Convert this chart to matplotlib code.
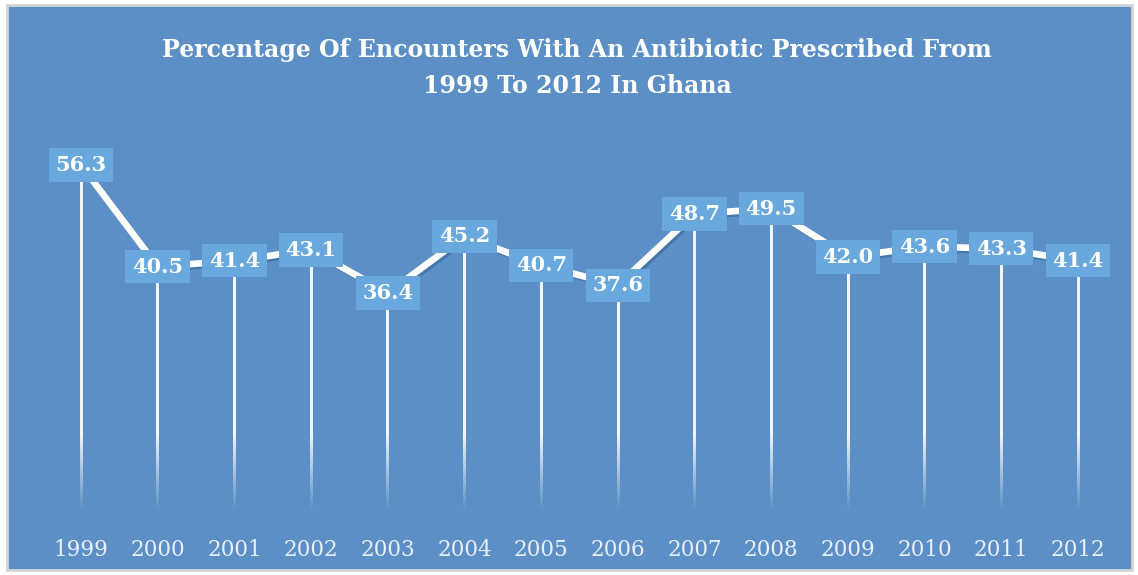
import numpy as np
import matplotlib
matplotlib.use("Agg")
import matplotlib.pyplot as plt
import matplotlib.patheffects as pe
from matplotlib.patches import Rectangle

years = [1999, 2000, 2001, 2002, 2003, 2004, 2005, 2006, 2007, 2008, 2009, 2010, 2011, 2012]
pct = [56.3, 40.5, 41.4, 43.1, 36.4, 45.2, 40.7, 37.6, 48.7, 49.5, 42.0, 43.6, 43.3, 41.4]
title = "Percentage Of Encounters With An Antibiotic Prescribed From\n1999 To 2012 In Ghana"

bg = "#5B8FC5"
box_col = "#68A8DC"

plt.rcParams['font.family'] = ['DejaVu Serif']

fig = plt.figure(figsize=(11.38, 5.75), dpi=100)
fig.patch.set_facecolor("white")
fig.patches.append(Rectangle((7 / 1138, 5 / 575), 1125 / 1138, 565 / 575, transform=fig.transFigure,
                             facecolor=bg, edgecolor="#d4d4d4", linewidth=2, zorder=-10))

ax = fig.add_axes([0, 0, 1, 1])
ax.set_facecolor("none")
ax.set_zorder(5)
px_year = (1078 - 81) / 13
px_val = 6.43
xlim = (1999 - 81 / px_year, 2012 + (1138 - 1078) / px_year)
ylim = ((527 - 575) / px_val, 527 / px_val)
ax.axis("off")

# fading drop lines drawn as thin gradient images
half_w = 1.3 / px_year
for x, v in zip(years, pct):
    ys = np.linspace(v, 2.5, 200)
    alpha = np.clip((ys - 2.5) / 12, 0, 1) * 0.92
    img = np.ones((200, 1, 4))
    img[:, 0, 3] = alpha
    ax.imshow(img, extent=[x - half_w, x + half_w, 2.5, v], origin="upper",
              aspect="auto", interpolation="bilinear", zorder=2)

ax.plot(years, pct, color="white", linewidth=4.8, solid_capstyle="round", zorder=3,
        path_effects=[pe.SimpleLineShadow(offset=(1.5, -1.5), shadow_color="#2f5d8f", alpha=0.5),
                      pe.Normal()])

for x, v in zip(years, pct):
    ax.text(x, v, f"{v:.1f}", ha="center", va="center", color="white", fontsize=15,
            fontweight="bold", zorder=5,
            bbox=dict(boxstyle="square,pad=0.32", facecolor=box_col, edgecolor="none"))

for x in years:
    ax.text(x, (527 - 550) / px_val, str(x), ha="center", va="center", color="#e8eff8",
            fontsize=15.5)

ax.set_xlim(*xlim)
ax.set_ylim(*ylim)

fig.text(577 / 1138, 1 - 68 / 575, title, ha="center", va="center", color="white",
         fontsize=17, fontweight="bold", linespacing=1.6)

fig.savefig("out.png", dpi=100, facecolor=fig.get_facecolor())
